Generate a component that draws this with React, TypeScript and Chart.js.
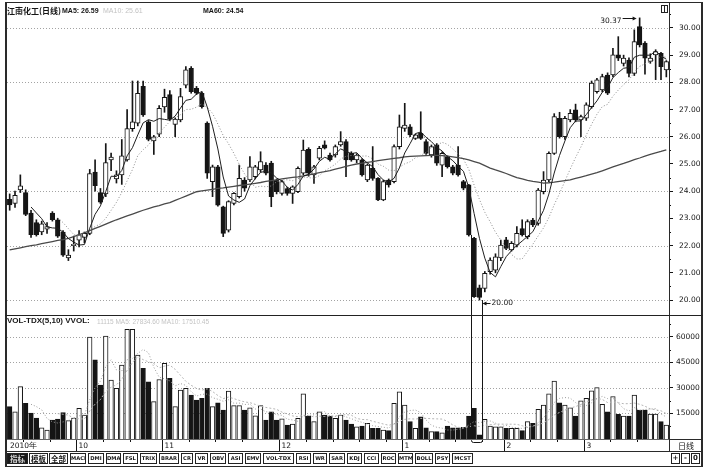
import React, { useEffect, useRef } from 'react';
import { Chart, registerables } from 'chart.js';

Chart.register(...registerables);

// ---------- daily bars (Sep 2010 – Mar 2011) ----------
const opens = [
  23.70, 23.55, 24.05, 23.95, 23.20, 22.85, 22.50, 22.60, 23.20, 22.95,
  22.50, 21.55, 22.00, 22.20, 22.30, 22.45, 24.70, 23.95, 23.90, 25.15,
  24.45, 24.60, 25.15, 26.30, 26.50, 27.85, 26.55, 25.85, 26.10, 27.10,
  27.55, 26.45, 26.62, 27.90, 28.52, 27.78, 27.60, 26.50, 24.35, 24.90,
  23.43, 22.57, 23.55, 23.80, 24.41, 24.41, 24.53, 24.78, 24.96, 25.03,
  24.41, 23.92, 24.10, 23.92, 23.98, 24.66, 25.54, 24.60, 25.21, 25.70,
  25.33, 25.33, 25.70, 25.82, 25.39, 25.15, 25.15, 24.41, 24.84, 24.47,
  23.68, 24.41, 24.35, 25.64, 26.31, 26.37, 25.94, 26.13, 25.82, 25.33,
  25.70, 24.96, 25.27, 24.90, 24.96, 24.35, 24.23, 22.27, 20.45, 20.43,
  21.04, 21.10, 21.55, 22.21, 21.84, 22.02, 22.63, 22.33, 22.94, 22.82,
  23.98, 24.41, 25.39, 26.68, 26.00, 26.62, 26.99, 26.62, 26.68, 27.11,
  27.66, 27.72, 28.27, 28.27, 29.01, 28.70, 28.82, 28.33, 30.05, 29.44,
  28.77, 29.01, 29.07, 28.46,
];
const highs = [
  23.90, 24.00, 24.60, 24.05, 23.30, 22.95, 22.90, 22.85, 23.25, 23.00,
  22.55, 21.85, 22.35, 22.55, 22.50, 24.80, 25.15, 24.10, 25.75, 25.40,
  24.75, 25.90, 27.00, 28.05, 28.05, 28.05, 26.60, 26.05, 27.15, 27.75,
  27.70, 26.70, 27.78, 28.58, 28.58, 27.85, 27.65, 26.55, 24.96, 24.95,
  23.45, 23.65, 23.95, 24.96, 24.50, 25.27, 24.95, 25.45, 25.05, 25.10,
  24.45, 24.40, 24.15, 24.20, 24.90, 25.88, 25.60, 24.95, 25.65, 25.85,
  25.40, 25.70, 26.19, 25.90, 25.45, 25.38, 25.20, 25.00, 25.64, 24.50,
  24.40, 24.45, 25.70, 26.80, 27.23, 26.45, 26.10, 26.92, 25.90, 25.70,
  25.75, 25.45, 25.30, 24.95, 25.64, 24.40, 24.25, 22.30, 20.55, 21.05,
  21.55, 21.70, 22.20, 22.30, 22.15, 22.70, 22.95, 22.95, 23.00, 24.10,
  24.72, 25.45, 26.85, 26.90, 26.75, 27.00, 27.20, 26.80, 27.25, 28.05,
  28.15, 28.30, 28.35, 29.25, 29.68, 29.00, 28.90, 29.93, 30.37, 29.50,
  29.05, 29.20, 29.10, 28.80,
];
const lows = [
  23.30, 23.40, 23.95, 23.10, 22.30, 22.35, 22.40, 22.45, 22.90, 22.30,
  21.60, 21.45, 21.80, 21.95, 22.10, 22.40, 24.00, 23.55, 23.80, 24.75,
  24.30, 24.25, 25.10, 26.20, 26.40, 26.75, 25.85, 25.35, 26.00, 26.90,
  26.60, 26.00, 26.55, 27.80, 27.60, 27.55, 27.05, 24.47, 23.80, 23.45,
  22.33, 22.50, 23.50, 23.75, 24.00, 24.35, 24.45, 24.70, 24.60, 23.43,
  23.90, 23.85, 23.85, 23.55, 23.95, 24.60, 24.55, 24.29, 25.15, 25.55,
  25.10, 25.25, 25.65, 24.53, 25.10, 25.05, 24.55, 24.35, 24.40, 23.65,
  23.65, 24.15, 24.30, 25.55, 26.20, 26.00, 25.90, 25.90, 25.35, 25.25,
  24.95, 24.53, 24.85, 24.60, 24.55, 24.05, 22.35, 20.10, 20.00, 20.30,
  20.95, 21.00, 21.45, 21.85, 21.80, 21.95, 22.35, 22.25, 22.70, 22.75,
  23.90, 24.35, 25.35, 25.95, 25.90, 26.55, 26.55, 26.00, 26.60, 27.05,
  27.60, 27.65, 27.55, 28.20, 28.80, 28.60, 28.20, 28.25, 29.30, 28.30,
  28.70, 28.10, 28.10, 28.20,
];
const closes = [
  23.50, 23.85, 24.20, 23.15, 22.40, 22.40, 22.80, 22.70, 22.95, 22.35,
  21.65, 21.65, 22.05, 22.40, 22.45, 24.65, 24.20, 23.60, 25.05, 25.25,
  24.60, 25.30, 26.30, 26.55, 27.60, 26.80, 25.90, 26.00, 27.05, 27.45,
  26.65, 26.65, 27.48, 28.46, 27.66, 27.60, 27.11, 24.66, 24.90, 23.49,
  22.45, 23.62, 23.92, 24.47, 24.11, 24.90, 24.90, 25.09, 24.66, 23.80,
  23.98, 24.35, 23.92, 24.16, 24.84, 25.51, 24.66, 24.90, 25.58, 25.58,
  25.15, 25.64, 25.82, 25.15, 25.15, 25.33, 24.60, 24.96, 24.47, 23.68,
  24.35, 24.23, 25.64, 26.37, 26.43, 26.07, 26.07, 25.94, 25.39, 25.64,
  25.03, 25.39, 24.90, 24.66, 24.60, 24.11, 22.39, 20.12, 20.10, 20.98,
  21.47, 21.59, 22.02, 21.90, 22.08, 22.45, 22.39, 22.88, 22.76, 24.04,
  24.41, 25.39, 26.74, 26.00, 26.68, 26.86, 26.62, 26.74, 27.17, 27.97,
  28.09, 28.21, 27.60, 29.01, 28.89, 28.89, 28.33, 29.50, 29.38, 28.89,
  28.89, 29.13, 28.58, 28.76,
];
const volumes = [
  19000, 16000, 30800, 21000, 15300, 12300, 6500, 5300, 11200, 11700,
  15500, 10800, 12300, 18000, 14100, 60000, 46500, 31700, 60500, 34700,
  29800, 43500, 64500, 64500, 49400, 41600, 33700, 22000, 35000, 44500,
  35700, 19000, 28800, 29800, 25900, 22900, 23900, 29800, 19000, 21300,
  17000, 28200, 19600, 19600, 17000, 18400, 13700, 19600, 11200, 16000,
  11200, 11800, 8200, 8800, 12200, 26500, 13500, 10200, 16000, 14100,
  13500, 12200, 14100, 11200, 8800, 7200, 7600, 9200, 6300, 6300,
  5300, 4900, 21000, 27800, 20000, 10200, 6300, 13100, 6500, 4300,
  4300, 3700, 7600, 6500, 6500, 6900, 13500, 18000, 2400, 11600,
  7600, 7200, 7200, 6300, 6300, 6300, 4900, 10200, 9200, 17500,
  20000, 26500, 34100, 21300, 20000, 18400, 13500, 22500, 23900, 28400,
  30200, 20400, 16000, 24900, 14500, 13500, 13500, 25900, 17000, 17000,
  14700, 14700, 10200, 8200,
];
// 60-day average as published with the quote (needs history before the window)
const ma60 = [
  21.84, 21.88, 21.92, 21.96, 22.00, 22.03, 22.07, 22.11, 22.15, 22.19,
  22.22, 22.27, 22.33, 22.40, 22.47, 22.55, 22.63, 22.71, 22.79, 22.87,
  22.95, 23.02, 23.09, 23.16, 23.23, 23.30, 23.36, 23.42, 23.47, 23.53,
  23.58, 23.66, 23.74, 23.82, 23.90, 23.98, 24.01, 24.04, 24.07, 24.10,
  24.12, 24.15, 24.18, 24.21, 24.23, 24.26, 24.29, 24.32, 24.36, 24.39,
  24.42, 24.45, 24.48, 24.51, 24.53, 24.56, 24.60, 24.64, 24.68, 24.72,
  24.76, 24.81, 24.86, 24.91, 24.96, 25.00, 25.03, 25.06, 25.09, 25.12,
  25.15, 25.18, 25.21, 25.23, 25.26, 25.28, 25.29, 25.30, 25.31, 25.32,
  25.32, 25.31, 25.29, 25.26, 25.23, 25.20, 25.15, 25.09, 25.03, 24.94,
  24.85, 24.78, 24.72, 24.65, 24.57, 24.50, 24.45, 24.40, 24.36, 24.33,
  24.30, 24.31, 24.33, 24.36, 24.39, 24.42, 24.47, 24.52, 24.57, 24.63,
  24.68, 24.75, 24.82, 24.89, 24.96, 25.02, 25.09, 25.16, 25.22, 25.29,
  25.35, 25.41, 25.46, 25.52,
];

const dayLabels = opens.map((_, i) => String(i + 1));
const yearLabel = '2010年';
const monthStarts = [13, 29, 51, 74, 93, 108];
const monthLabels = ['10', '11', '12', '1', '2', '3'];
const priceTicks = [20, 21, 22, 23, 24, 25, 26, 27, 28, 29, 30];
const priceGrid = [20, 22, 24, 26, 28, 30];
const volumeTicks = [15000, 30000, 45000, 60000];
// the two limit-down sessions boxed down through the volume pane
const boxFrom = 86;
const boxTo = 88;

const INK = '#151515';
const DOT = '#a3a3a3';
const PRICE_MIN = 19.45;
const PRICE_MAX = 30.88;
const VOL_MAX = 72350;
const BAR_W = 4.6;

function movingAverage(src: number[], n: number) {
  return src.map((_, i) =>
    i < n - 1 ? null : src.slice(i - n + 1, i + 1).reduce((s, v) => s + v, 0) / n
  );
}

const isUp = closes.map((c, i) => c >= opens[i]);
const ma5 = movingAverage(closes, 5);
const ma10 = movingAverage(closes, 10);
const vma5 = movingAverage(volumes, 5);
const vma10 = movingAverage(volumes, 10);

const snap = (v: number) => Math.round(v) + 0.5;

function axisFit(s: any) {
  s.width = 42;
  s.paddingTop = 0;
  s.paddingBottom = 0;
}

const priceDecor = {
  id: 'priceDecor',
  beforeDatasetsDraw(chart: any) {
    const { ctx, chartArea: a, scales } = chart;
    ctx.save();
    ctx.strokeStyle = DOT;
    ctx.lineWidth = 1;
    ctx.setLineDash([1, 2]);
    for (const v of priceGrid) {
      const py = snap(scales.y.getPixelForValue(v));
      ctx.beginPath();
      ctx.moveTo(a.left, py);
      ctx.lineTo(a.right, py);
      ctx.stroke();
    }
    ctx.restore();
  },
  afterDraw(chart: any) {
    const { ctx, chartArea: a, scales } = chart;
    const { x, y } = scales;
    ctx.save();
    ctx.strokeStyle = INK;
    ctx.fillStyle = INK;
    ctx.lineWidth = 1;
    // half-unit minor ticks on the price axis
    for (let v = 20.5; v < 30.6; v += 1) {
      const py = snap(y.getPixelForValue(v));
      ctx.beginPath();
      ctx.moveTo(a.right, py);
      ctx.lineTo(a.right + 2, py);
      ctx.stroke();
    }
    ctx.font = '7.5px "DejaVu Sans"';
    ctx.textBaseline = 'middle';
    // highest high
    const hi = highs.indexOf(Math.max(...highs));
    const hx = x.getPixelForValue(hi);
    const hy = y.getPixelForValue(highs[hi]);
    ctx.textAlign = 'right';
    ctx.fillText(highs[hi].toFixed(2), hx - 18, hy + 3);
    ctx.beginPath();
    ctx.moveTo(hx - 17, snap(hy));
    ctx.lineTo(hx - 5, snap(hy));
    ctx.stroke();
    ctx.beginPath();
    ctx.moveTo(hx - 3, hy + 0.5);
    ctx.lineTo(hx - 7, hy - 1.5);
    ctx.lineTo(hx - 7, hy + 2.5);
    ctx.closePath();
    ctx.fill();
    // lowest low
    const lo = lows.indexOf(Math.min(...lows));
    const lx = x.getPixelForValue(lo);
    const ly = y.getPixelForValue(lows[lo]) + 3;
    ctx.beginPath();
    ctx.moveTo(lx + 4, snap(ly));
    ctx.lineTo(lx + 11, snap(ly));
    ctx.stroke();
    ctx.beginPath();
    ctx.moveTo(lx + 3, ly + 0.5);
    ctx.lineTo(lx + 7, ly - 1.5);
    ctx.lineTo(lx + 7, ly + 2.5);
    ctx.closePath();
    ctx.fill();
    ctx.textAlign = 'left';
    ctx.fillText(lows[lo].toFixed(2), lx + 12, ly);
    // box around the limit-down sessions (upper part)
    const bx0 = snap(x.getPixelForValue(boxFrom) + 2.5);
    const bx1 = snap(x.getPixelForValue(boxTo) + 3);
    ctx.beginPath();
    ctx.moveTo(bx0, y.getPixelForValue(closes[boxFrom]));
    ctx.lineTo(bx0, chart.height);
    ctx.moveTo(bx1, y.getPixelForValue(lows[boxTo]));
    ctx.lineTo(bx1, chart.height);
    ctx.stroke();
    ctx.restore();
  },
};

const volumeDecor = {
  id: 'volumeDecor',
  beforeDatasetsDraw(chart: any) {
    const { ctx, chartArea: a, scales } = chart;
    ctx.save();
    ctx.strokeStyle = DOT;
    ctx.lineWidth = 1;
    ctx.setLineDash([1, 2]);
    for (const v of volumeTicks) {
      const py = snap(scales.y.getPixelForValue(v));
      ctx.beginPath();
      ctx.moveTo(a.left, py);
      ctx.lineTo(a.right, py);
      ctx.stroke();
    }
    ctx.restore();
  },
  afterDraw(chart: any) {
    const { ctx, chartArea: a, scales } = chart;
    const { x, y } = scales;
    ctx.save();
    ctx.strokeStyle = INK;
    ctx.fillStyle = INK;
    ctx.lineWidth = 1;
    for (let v = 7500; v < VOL_MAX; v += 15000) {
      const py = snap(y.getPixelForValue(v));
      ctx.beginPath();
      ctx.moveTo(a.right, py);
      ctx.lineTo(a.right + 2, py);
      ctx.stroke();
    }
    // box around the limit-down sessions (lower part)
    const bx0 = snap(x.getPixelForValue(boxFrom) + 2.5);
    const bx1 = snap(x.getPixelForValue(boxTo) + 3);
    const by = a.bottom + 3.5;
    ctx.beginPath();
    ctx.moveTo(bx0, 0);
    ctx.lineTo(bx0, by - 2);
    ctx.quadraticCurveTo(bx0, by, bx0 + 2, by);
    ctx.lineTo(bx1 - 2, by);
    ctx.quadraticCurveTo(bx1, by, bx1, by - 2);
    ctx.lineTo(bx1, 0);
    ctx.stroke();
    // date row
    const step = x.getPixelForValue(1) - x.getPixelForValue(0);
    const rowTop = a.bottom + 1;
    ctx.font = '7.5px "DejaVu Sans"';
    ctx.textBaseline = 'middle';
    ctx.textAlign = 'left';
    ctx.fillText(yearLabel, a.left + 3, rowTop + 6);
    const bounds = [...monthStarts, dayLabels.length];
    monthStarts.forEach((m, k) => {
      const px = snap(x.getPixelForValue(m) - step / 2);
      ctx.beginPath();
      ctx.moveTo(px, rowTop);
      ctx.lineTo(px, rowTop + 11);
      ctx.stroke();
      ctx.fillText(monthLabels[k], px + 2, rowTop + 6);
      for (let d = m + 5; d < bounds[k + 1] - 2; d += 5) {
        const tx = snap(x.getPixelForValue(d) - step / 2);
        ctx.beginPath();
        ctx.moveTo(tx, rowTop);
        ctx.lineTo(tx, rowTop + 2);
        ctx.stroke();
      }
    });
    for (let d = monthStarts[0] - 5; d > 1; d -= 5) {
      const tx = snap(x.getPixelForValue(d) - step / 2);
      ctx.beginPath();
      ctx.moveTo(tx, rowTop);
      ctx.lineTo(tx, rowTop + 2);
      ctx.stroke();
    }
    ctx.restore();
  },
};

function rightAxis(min: number, max: number, ticks: number[], fmt: (v: number) => string, pad: number) {
  return {
    position: 'right',
    min,
    max,
    afterFit: axisFit,
    afterBuildTicks: (s: any) => {
      s.ticks = ticks.map((v) => ({ value: v }));
    },
    ticks: {
      callback: (v: any) => fmt(Number(v)),
      font: { family: '"DejaVu Sans"', size: 7.5 },
      color: INK,
      padding: pad,
      autoSkip: false,
    },
    grid: { drawOnChartArea: false, drawTicks: true, tickLength: 4, color: INK, lineWidth: 1 },
    border: { display: false },
  };
}

const hiddenX = { type: 'category', display: false, offset: true, grid: { display: false }, ticks: { display: false } };

function priceConfig(): any {
  return {
    type: 'bar',
    data: {
      labels: dayLabels,
      datasets: [
        {
          type: 'bar',
          data: lows.map((l, i) => [l, highs[i]]),
          backgroundColor: INK,
          barThickness: 1,
          grouped: false,
          order: 5,
        },
        {
          type: 'bar',
          data: opens.map((o, i) => [o, closes[i]]),
          backgroundColor: isUp.map((u) => (u ? '#ffffff' : INK)),
          borderColor: INK,
          borderWidth: 1,
          borderSkipped: false,
          barThickness: BAR_W,
          grouped: false,
          order: 4,
        },
        { type: 'line', data: ma60, borderColor: '#4a4a4a', borderWidth: 1.3, pointRadius: 0, order: 3 },
        { type: 'line', data: ma10, borderColor: '#8a8a8a', borderWidth: 1, borderDash: [1, 2], pointRadius: 0, order: 2 },
        { type: 'line', data: ma5, borderColor: '#1e1e1e', borderWidth: 1, pointRadius: 0, order: 1 },
      ],
    },
    options: {
      animation: false,
      responsive: false,
      devicePixelRatio: 1,
      events: [],
      layout: { padding: { left: 7, right: 0, top: 4, bottom: 1 } },
      plugins: { legend: { display: false }, tooltip: { enabled: false } },
      scales: {
        x: hiddenX,
        y: rightAxis(PRICE_MIN, PRICE_MAX, priceTicks, (v) => v.toFixed(2), 6),
      },
    },
    plugins: [priceDecor],
  };
}

function volumeConfig(): any {
  return {
    type: 'bar',
    data: {
      labels: dayLabels,
      datasets: [
        {
          type: 'bar',
          data: volumes,
          backgroundColor: isUp.map((u) => (u ? '#ffffff' : INK)),
          borderColor: INK,
          borderWidth: 1,
          barThickness: BAR_W,
          order: 3,
        },
        { type: 'line', data: vma5, borderColor: '#9a9a9a', borderWidth: 1, borderDash: [1, 2], pointRadius: 0, order: 1 },
        { type: 'line', data: vma10, borderColor: '#b5b5b5', borderWidth: 1, borderDash: [2, 2], pointRadius: 0, order: 2 },
      ],
    },
    options: {
      animation: false,
      responsive: false,
      devicePixelRatio: 1,
      events: [],
      layout: { padding: { left: 7, right: 0, top: 0, bottom: 30 } },
      plugins: { legend: { display: false }, tooltip: { enabled: false } },
      scales: {
        x: hiddenX,
        y: rightAxis(0, VOL_MAX, volumeTicks, (v) => String(v), 3),
      },
    },
    plugins: [volumeDecor],
  };
}

const TABS: [string, number, number][] = [
  ['指标', 7, 28], ['模板', 29, 48], ['全部', 49, 68], ['MACD', 70, 86], ['DMI', 88, 104],
  ['DMA', 106, 121], ['FSL', 123, 138], ['TRIX', 140, 157], ['BRAR', 159, 179], ['CR', 181, 193],
  ['VR', 195, 208], ['OBV', 210, 226], ['ASI', 228, 243], ['EMV', 245, 261], ['VOL-TDX', 263, 294],
  ['RSI', 296, 311], ['WR', 313, 327], ['SAR', 329, 345], ['KDJ', 347, 362], ['CCI', 364, 379],
  ['ROC', 381, 396], ['MTM', 398, 413], ['BOLL', 415, 433], ['PSY', 435, 450], ['MCST', 452, 473],
];

const line = (left: number, top: number, width: number, height: number, color = '#2a2a2a') => (
  <div style={{ position: 'absolute', left, top, width, height, background: color }} />
);

const abs = (left: number, top: number, extra: any = {}) => ({
  position: 'absolute' as const,
  left,
  top,
  whiteSpace: 'nowrap' as const,
  ...extra,
});

export default function App() {
  const priceRef = useRef<HTMLCanvasElement>(null);
  const volRef = useRef<HTMLCanvasElement>(null);

  useEffect(() => {
    const price = new Chart(priceRef.current as HTMLCanvasElement, priceConfig());
    const vol = new Chart(volRef.current as HTMLCanvasElement, volumeConfig());
    return () => {
      price.destroy();
      vol.destroy();
    };
  }, []);

  const latin = '"Liberation Sans", Arial, sans-serif';
  const cjk = '"Noto Sans CJK SC", sans-serif';

  return (
    <div style={{ position: 'fixed', left: 0, top: 0, width: 711, height: 469, background: '#fff', overflow: 'hidden' }}>
      <canvas ref={priceRef} width={711} height={316} style={{ position: 'absolute', left: 0, top: 0, width: 711, height: 316 }} />
      <canvas ref={volRef} width={711} height={153} style={{ position: 'absolute', left: 0, top: 316, width: 711, height: 153 }} />

      {/* frame */}
      {line(5, 2, 698, 1)}
      {line(5, 2, 1.5, 465)}
      {line(701, 2, 1.5, 465)}
      {line(669, 2, 1, 450)}
      {line(5, 314.5, 698, 1.5, '#222')}
      {line(7, 439, 662, 1, '#666')}
      {line(669, 439, 33, 1)}
      {line(5, 451, 698, 1)}
      {line(5, 466, 698, 1.2)}

      {/* price header */}
      <div style={abs(7, 6, { fontFamily: cjk, fontSize: 8, fontWeight: 700, lineHeight: '10px', color: INK })}>江南化工(日线)</div>
      <div style={abs(62, 6, { fontFamily: latin, fontSize: 7, fontWeight: 700, lineHeight: '10px', color: INK })}>MA5: 26.59</div>
      <div style={abs(103, 6, { fontFamily: latin, fontSize: 7, lineHeight: '10px', color: '#c2c2c2' })}>MA10: 25.61</div>
      <div style={abs(203, 6, { fontFamily: latin, fontSize: 7, fontWeight: 700, lineHeight: '10px', color: INK })}>MA60: 24.54</div>
      <div style={{ position: 'absolute', left: 661, top: 5, width: 5, height: 6, border: '1px solid #222' }}>
        <div style={{ position: 'absolute', left: 2, top: 0, width: 1, height: 6, background: '#222' }} />
      </div>

      {/* volume header */}
      <div style={abs(7, 316, { fontFamily: latin, fontSize: 8, fontWeight: 700, lineHeight: '10px', color: INK })}>VOL-TDX(5,10) VVOL:</div>
      <div style={abs(97, 316.5, { fontFamily: latin, fontSize: 6.5, lineHeight: '10px', color: '#c4c4c4' })}>11115 MA5: 27834.60 MA10: 17510.45</div>

      {/* period cell */}
      <div style={abs(678, 440.5, { fontFamily: cjk, fontSize: 8, lineHeight: '10px', color: INK })}>日线</div>

      {/* indicator tabs */}
      {TABS.map(([t, x0, x1], k) => (
        <div
          key={t}
          style={{
            position: 'absolute',
            left: x0,
            top: 453,
            width: x1 - x0,
            height: 11,
            boxSizing: 'border-box',
            border: '1px solid #222',
            background: k === 0 ? '#1a1a1a' : '#fff',
            color: k === 0 ? '#d8d8d8' : INK,
            fontFamily: k < 3 ? cjk : '"DejaVu Sans", sans-serif',
            fontSize: k < 3 ? 7.5 : 5.2,
            fontWeight: 700,
            lineHeight: '9px',
            textAlign: 'center',
            overflow: 'hidden',
            whiteSpace: 'nowrap',
          }}
        >
          {t}
        </div>
      ))}
      {['+', '-', '0'].map((t, k) => (
        <div
          key={t}
          style={{
            position: 'absolute',
            left: 671 + k * 10,
            top: 453,
            width: 9,
            height: 11,
            boxSizing: 'border-box',
            border: '1px solid #222',
            fontFamily: '"DejaVu Sans", sans-serif',
            fontSize: 7,
            fontWeight: 700,
            lineHeight: '9px',
            textAlign: 'center',
            color: INK,
          }}
        >
          {t}
        </div>
      ))}
    </div>
  );
}
